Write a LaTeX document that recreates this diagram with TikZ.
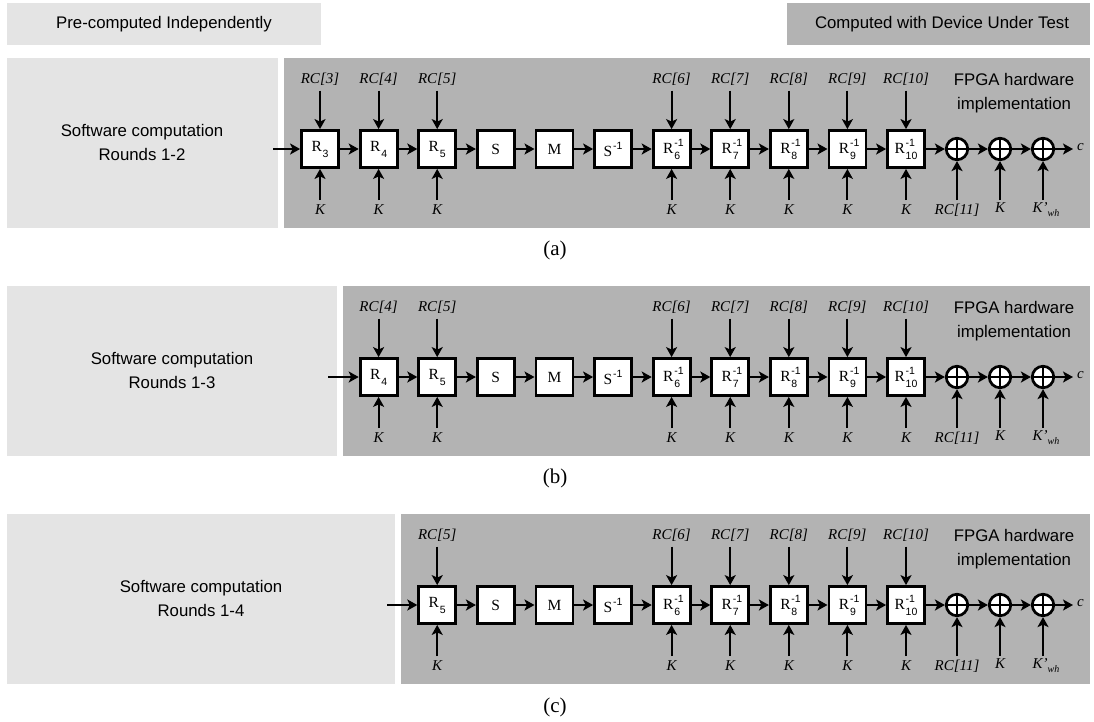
\documentclass[tikz,border=0pt]{standalone}
\usepackage{fontspec}
\setmainfont{Liberation Serif}
\setsansfont{Liberation Sans}
\usetikzlibrary{arrows.meta}
\definecolor{lightg}{RGB}{228,228,228}
\definecolor{darkg}{RGB}{179,179,179}
\newcommand\ssub{\sffamily\fontsize{10.5}{10.5}\selectfont}
\newcommand\Rs[1]{R\kern0.8pt\raisebox{-6pt}{\ssub #1}}
\newcommand\Ri[1]{R\kern0.8pt\rlap{\raisebox{7pt}{\ssub -1}}\raisebox{-6pt}{\ssub #1}}
\newcommand\Sinv{S\kern0.8pt\raisebox{7pt}{\ssub -1}}
\newcommand\blab[1]{\ifcase#1 \Rs{3}\or\Rs{4}\or\Rs{5}\or S\or M\or\Sinv\or\Ri{6}\or\Ri{7}\or\Ri{8}\or\Ri{9}\or\Ri{10}\fi}
\newcommand\rcnum[1]{\ifcase#1 3\or 4\or 5\or 0\or 0\or 0\or 6\or 7\or 8\or 9\or 10\fi}
\tikzset{
  arr/.style={line width=2pt, -{Stealth[length=10pt,width=11pt,inset=2.5pt]}},
  blk/.style={draw, fill=white, line width=2.8pt, minimum width=37pt, minimum height=37pt, inner sep=0pt,
    font=\fontsize{15.5}{15.5}\selectfont},
  xor/.style={circle, draw, fill=white, line width=2.7pt, minimum size=21.5pt, inner sep=0pt,
    path picture={\draw[line width=2pt] (path picture bounding box.north) -- (path picture bounding box.south)
      (path picture bounding box.west) -- (path picture bounding box.east);}},
  lab/.style={font=\itshape\fontsize{15}{16}\selectfont, inner sep=0pt},
  sans/.style={font=\sffamily\fontsize{16.8}{24}\selectfont, align=center, inner sep=0pt},
  captxt/.style={font=\fontsize{21}{21}\selectfont, inner sep=0pt}
}
\newcommand\chainrow[4]{%
  \pgfmathsetmacro\rowY{#2+91}%
  \pgfmathsetmacro\rcY{#2+21}%
  \pgfmathsetmacro\rcA{#2+32.7}%
  \pgfmathsetmacro\kY{#2+152}%
  \pgfmathsetmacro\kA{#2+142}%
  \foreach \i in {#3,...,10}{%
    \pgfmathsetmacro\bx{320+58.6*\i}%
    \node[blk] (#1b\i) at (\bx,\rowY) {\blab{\i}};%
    \ifnum\i<3 \def\hasrc{1}\else\ifnum\i>5 \def\hasrc{1}\else\def\hasrc{0}\fi\fi
    \ifnum\hasrc=1
      \node[lab] (#1rc\i) at (\bx,\rcY) {RC[\rcnum{\i}]};%
      \coordinate (#1rt\i) at (\bx,\rcA);%
      \draw[arr] (#1rt\i) -- (#1b\i);%
      \node[lab] (#1k\i) at (\bx,\kY) {K};%
      \coordinate (#1kb\i) at (\bx,\kA);%
      \draw[arr] (#1kb\i) -- (#1b\i);%
    \fi
    \ifnum\i>#3
      \pgfmathtruncatemacro\pr{\i-1}%
      \draw[arr] (#1b\pr) -- (#1b\i);%
    \fi
  }%
  \coordinate (#1in) at (#4,\rowY);%
  \draw[arr] (#1in) -- (#1b#3);%
  \node[xor] (#1x1) at (957,\rowY) {};%
  \node[xor] (#1x2) at (1000,\rowY) {};%
  \node[xor] (#1x3) at (1043,\rowY) {};%
  \draw[arr] (#1b10) -- (#1x1);%
  \draw[arr] (#1x1) -- (#1x2);%
  \draw[arr] (#1x2) -- (#1x3);%
  \coordinate (#1out) at (1073,\rowY);%
  \draw[arr] (#1x3) -- (#1out);%
  \node[lab, anchor=west] (#1c) at (1077,\rowY-2) {c};%
  \coordinate (#1xb1) at (957,\kA);%
  \coordinate (#1xb2) at (1000,\kA);%
  \coordinate (#1xb3) at (1043,\kA);%
  \draw[arr] (#1xb1) -- (#1x1);%
  \draw[arr] (#1xb2) -- (#1x2);%
  \draw[arr] (#1xb3) -- (#1x3);%
  \node[lab] (#1rc11) at (957,\kY) {RC[11]};%
  \node[lab] (#1kx) at (1000,\kY-2) {K};%
  \node[lab] (#1kwh) at (1046,\kY) {K’\raisebox{-4pt}{\fontsize{10}{10}\selectfont wh}};%
  \node[sans] (#1fpga) at (1014,#2+35.5) {FPGA hardware\\implementation};%
}
\begin{document}
\begin{tikzpicture}[x=1pt,y=-1pt]
\useasboundingbox (0,0) rectangle (1094,721);
% legend
\fill[lightg] (7,3) rectangle (321,45);
\node[sans] (legA) at (164,24.5) {Pre-computed Independently};
\fill[darkg] (787,3) rectangle (1090,45);
\node[sans] (legB) at (942,24.5) {Computed with Device Under Test};
% backgrounds
\fill[lightg] (7,58) rectangle (278,228);
\fill[darkg] (284,58) rectangle (1090,228);
\fill[lightg] (7,286) rectangle (336.7,456);
\fill[darkg] (342.7,286) rectangle (1090,456);
\fill[lightg] (7,514) rectangle (395,684);
\fill[darkg] (401,514) rectangle (1090,684);
% software texts
\node[sans] (swa) at (142,142) {Software computation\\Rounds 1-2};
\node[sans] (swb) at (172,370) {Software computation\\Rounds 1-3};
\node[sans] (swc) at (201,598) {Software computation\\Rounds 1-4};
% rows
\chainrow{a}{58}{0}{273}
\chainrow{b}{286}{1}{328}
\chainrow{c}{514}{2}{387}
% captions
\node[captxt] (capa) at (555,250) {(a)};
\node[captxt] (capb) at (555,478) {(b)};
\node[captxt] (capc) at (555,707) {(c)};
\end{tikzpicture}
\end{document}
